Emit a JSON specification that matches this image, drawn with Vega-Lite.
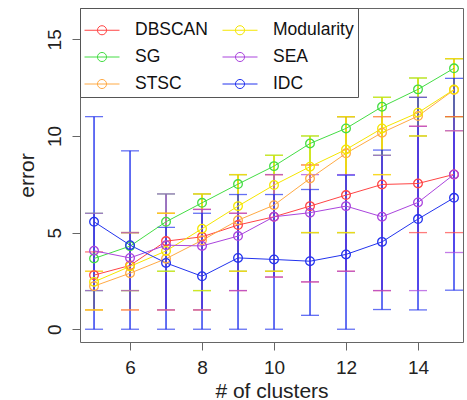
{
  "$schema": "https://vega.github.io/schema/vega-lite/v6.json",
  "width": 383,
  "height": 334,
  "autosize": {"type": "none"},
  "padding": {"left": 80, "top": 8, "right": 4, "bottom": 58},
  "background": "white",
  "config": {
    "font": "Liberation Sans",
    "view": {"stroke": "#666666", "strokeWidth": 1},
    "axis": {"grid": false, "domain": false, "tickColor": "#666666", "labelColor": "#222222", "titleColor": "#222222", "labelFont": "Liberation Sans", "titleFont": "Liberation Sans", "titleFontWeight": "normal", "labelFontSize": 19, "titleFontSize": 21, "tickSize": 8},
    "legend": {
      "orient": "none", "legendX": 0, "legendY": 0, "columns": 2, "gridAlign": "each",
      "strokeColor": "#555555", "fillColor": "white", "padding": 4,
      "labelOffset": 15, "rowPadding": -13, "columnPadding": 12,
      "labelFont": "Liberation Sans", "labelFontSize": 17.5, "labelColor": "#111111",
      "symbolType": "M-1,0H1M-0.26,0A0.26,0.26 0 1,1 0.26,0A0.26,0.26 0 1,1 -0.26,0",
      "symbolSize": 1225, "symbolStrokeWidth": 1, "symbolFillColor": "transparent"
    }
  },
  "data": {"values": [
    {"m": "DBSCAN", "k": 5, "e": 2.80, "lo": 1, "hi": 4},
    {"m": "DBSCAN", "k": 6, "e": 3.30, "lo": 1, "hi": 5},
    {"m": "DBSCAN", "k": 7, "e": 4.56, "lo": 1, "hi": 6},
    {"m": "DBSCAN", "k": 8, "e": 4.78, "lo": 1, "hi": 6.2},
    {"m": "DBSCAN", "k": 9, "e": 5.39, "lo": 2, "hi": 6},
    {"m": "DBSCAN", "k": 10, "e": 5.82, "lo": 2.7, "hi": 8},
    {"m": "DBSCAN", "k": 11, "e": 6.37, "lo": 2.45, "hi": 8.5},
    {"m": "DBSCAN", "k": 12, "e": 6.94, "lo": 3, "hi": 11},
    {"m": "DBSCAN", "k": 13, "e": 7.49, "lo": 2, "hi": 11},
    {"m": "DBSCAN", "k": 14, "e": 7.54, "lo": 5, "hi": 10.5},
    {"m": "DBSCAN", "k": 15, "e": 8.01, "lo": 5, "hi": 11},
    {"m": "SG", "k": 5, "e": 3.66, "lo": 2, "hi": 6},
    {"m": "SG", "k": 6, "e": 4.30, "lo": 2, "hi": 5},
    {"m": "SG", "k": 7, "e": 5.56, "lo": 3, "hi": 7},
    {"m": "SG", "k": 8, "e": 6.54, "lo": 2, "hi": 7},
    {"m": "SG", "k": 9, "e": 7.51, "lo": 3, "hi": 8},
    {"m": "SG", "k": 10, "e": 8.44, "lo": 3, "hi": 9},
    {"m": "SG", "k": 11, "e": 9.61, "lo": 5, "hi": 10},
    {"m": "SG", "k": 12, "e": 10.39, "lo": 5, "hi": 11},
    {"m": "SG", "k": 13, "e": 11.51, "lo": 9, "hi": 12},
    {"m": "SG", "k": 14, "e": 12.41, "lo": 10, "hi": 13},
    {"m": "SG", "k": 15, "e": 13.50, "lo": 11, "hi": 14},
    {"m": "STSC", "k": 5, "e": 2.23, "lo": 1, "hi": 3},
    {"m": "STSC", "k": 6, "e": 2.90, "lo": 1, "hi": 5},
    {"m": "STSC", "k": 7, "e": 3.65, "lo": 1, "hi": 6},
    {"m": "STSC", "k": 8, "e": 4.60, "lo": 1, "hi": 7},
    {"m": "STSC", "k": 9, "e": 5.64, "lo": 3, "hi": 8},
    {"m": "STSC", "k": 10, "e": 6.42, "lo": 3, "hi": 8},
    {"m": "STSC", "k": 11, "e": 7.80, "lo": 5, "hi": 8.5},
    {"m": "STSC", "k": 12, "e": 9.10, "lo": 5, "hi": 11},
    {"m": "STSC", "k": 13, "e": 10.17, "lo": 8, "hi": 11},
    {"m": "STSC", "k": 14, "e": 11.03, "lo": 10, "hi": 12},
    {"m": "STSC", "k": 15, "e": 12.38, "lo": 10.27, "hi": 14},
    {"m": "Modularity", "k": 5, "e": 2.45, "lo": 1, "hi": 3},
    {"m": "Modularity", "k": 6, "e": 3.25, "lo": 2, "hi": 5},
    {"m": "Modularity", "k": 7, "e": 4.05, "lo": 3, "hi": 6},
    {"m": "Modularity", "k": 8, "e": 5.20, "lo": 2, "hi": 7},
    {"m": "Modularity", "k": 9, "e": 6.37, "lo": 3, "hi": 8},
    {"m": "Modularity", "k": 10, "e": 7.46, "lo": 3, "hi": 9},
    {"m": "Modularity", "k": 11, "e": 8.41, "lo": 5, "hi": 10},
    {"m": "Modularity", "k": 12, "e": 9.30, "lo": 5, "hi": 11},
    {"m": "Modularity", "k": 13, "e": 10.39, "lo": 8, "hi": 12},
    {"m": "Modularity", "k": 14, "e": 11.20, "lo": 10, "hi": 13},
    {"m": "Modularity", "k": 15, "e": 12.40, "lo": 11, "hi": 14},
    {"m": "SEA", "k": 5, "e": 4.06, "lo": 2, "hi": 6},
    {"m": "SEA", "k": 6, "e": 3.69, "lo": 2, "hi": 5},
    {"m": "SEA", "k": 7, "e": 4.35, "lo": 1, "hi": 7},
    {"m": "SEA", "k": 8, "e": 4.31, "lo": 1, "hi": 6.2},
    {"m": "SEA", "k": 9, "e": 4.82, "lo": 2, "hi": 6},
    {"m": "SEA", "k": 10, "e": 5.82, "lo": 2.7, "hi": 8},
    {"m": "SEA", "k": 11, "e": 6.03, "lo": 2.45, "hi": 8},
    {"m": "SEA", "k": 12, "e": 6.37, "lo": 3, "hi": 8},
    {"m": "SEA", "k": 13, "e": 5.82, "lo": 2, "hi": 9},
    {"m": "SEA", "k": 14, "e": 6.56, "lo": 2, "hi": 10.5},
    {"m": "SEA", "k": 15, "e": 8.01, "lo": 3.97, "hi": 10.27},
    {"m": "IDC", "k": 5, "e": 5.56, "lo": 0, "hi": 11},
    {"m": "IDC", "k": 6, "e": 4.35, "lo": 0, "hi": 9.23},
    {"m": "IDC", "k": 7, "e": 3.43, "lo": 0, "hi": 5.27},
    {"m": "IDC", "k": 8, "e": 2.74, "lo": 0, "hi": 6},
    {"m": "IDC", "k": 9, "e": 3.69, "lo": 0, "hi": 6.97},
    {"m": "IDC", "k": 10, "e": 3.61, "lo": 0, "hi": 6.97},
    {"m": "IDC", "k": 11, "e": 3.52, "lo": 0.72, "hi": 7.23},
    {"m": "IDC", "k": 12, "e": 3.87, "lo": 0, "hi": 7.97},
    {"m": "IDC", "k": 13, "e": 4.52, "lo": 1.02, "hi": 9.27},
    {"m": "IDC", "k": 14, "e": 5.70, "lo": 1, "hi": 12},
    {"m": "IDC", "k": 15, "e": 6.80, "lo": 2.02, "hi": 12.98}
  ]},
  "encoding": {
    "x": {"field": "k", "type": "quantitative", "scale": {"domain": [4.61, 15.25], "nice": false, "zero": false},
      "axis": {"values": [6, 8, 10, 12, 14], "title": "# of clusters", "labelPadding": 8, "titlePadding": 3}},
    "color": {"field": "m", "type": "nominal", "title": null,
      "scale": {"domain": ["DBSCAN", "SG", "STSC", "Modularity", "SEA", "IDC"],
                "range": ["#FF4444", "#44DD44", "#FFAA44", "#F5E600", "#AA44DD", "#2233EE"]},
      "legend": {"symbolFillColor": "transparent",
        "encode": {"symbols": {
          "enter": {"fill": {"value": "transparent"}, "fillOpacity": {"value": 0}},
          "update": {"fill": {"value": "transparent"}, "fillOpacity": {"value": 0}, "strokeWidth": {"value": 1}, "opacity": {"value": 1}}}}}}
  },
  "layer": [
    {"mark": {"type": "rule", "strokeWidth": 1.4},
     "encoding": {"y": {"field": "lo", "type": "quantitative"}, "y2": {"field": "hi"}}},
    {"mark": {"type": "tick", "orient": "horizontal", "size": 18, "thickness": 1.3},
     "encoding": {"y": {"field": "lo", "type": "quantitative"}}},
    {"mark": {"type": "tick", "orient": "horizontal", "size": 18, "thickness": 1.3},
     "encoding": {"y": {"field": "hi", "type": "quantitative"}}},
    {"mark": {"type": "line", "strokeWidth": 1, "point": {"filled": false, "size": 75, "strokeWidth": 1.3}},
     "encoding": {"y": {"field": "e", "type": "quantitative",
       "scale": {"domain": [-0.66, 16.62], "nice": false, "zero": false},
       "axis": {"values": [0, 5, 10, 15], "title": "error", "labelAngle": 270, "labelPadding": 8, "titlePadding": 8}}}}
  ]
}
